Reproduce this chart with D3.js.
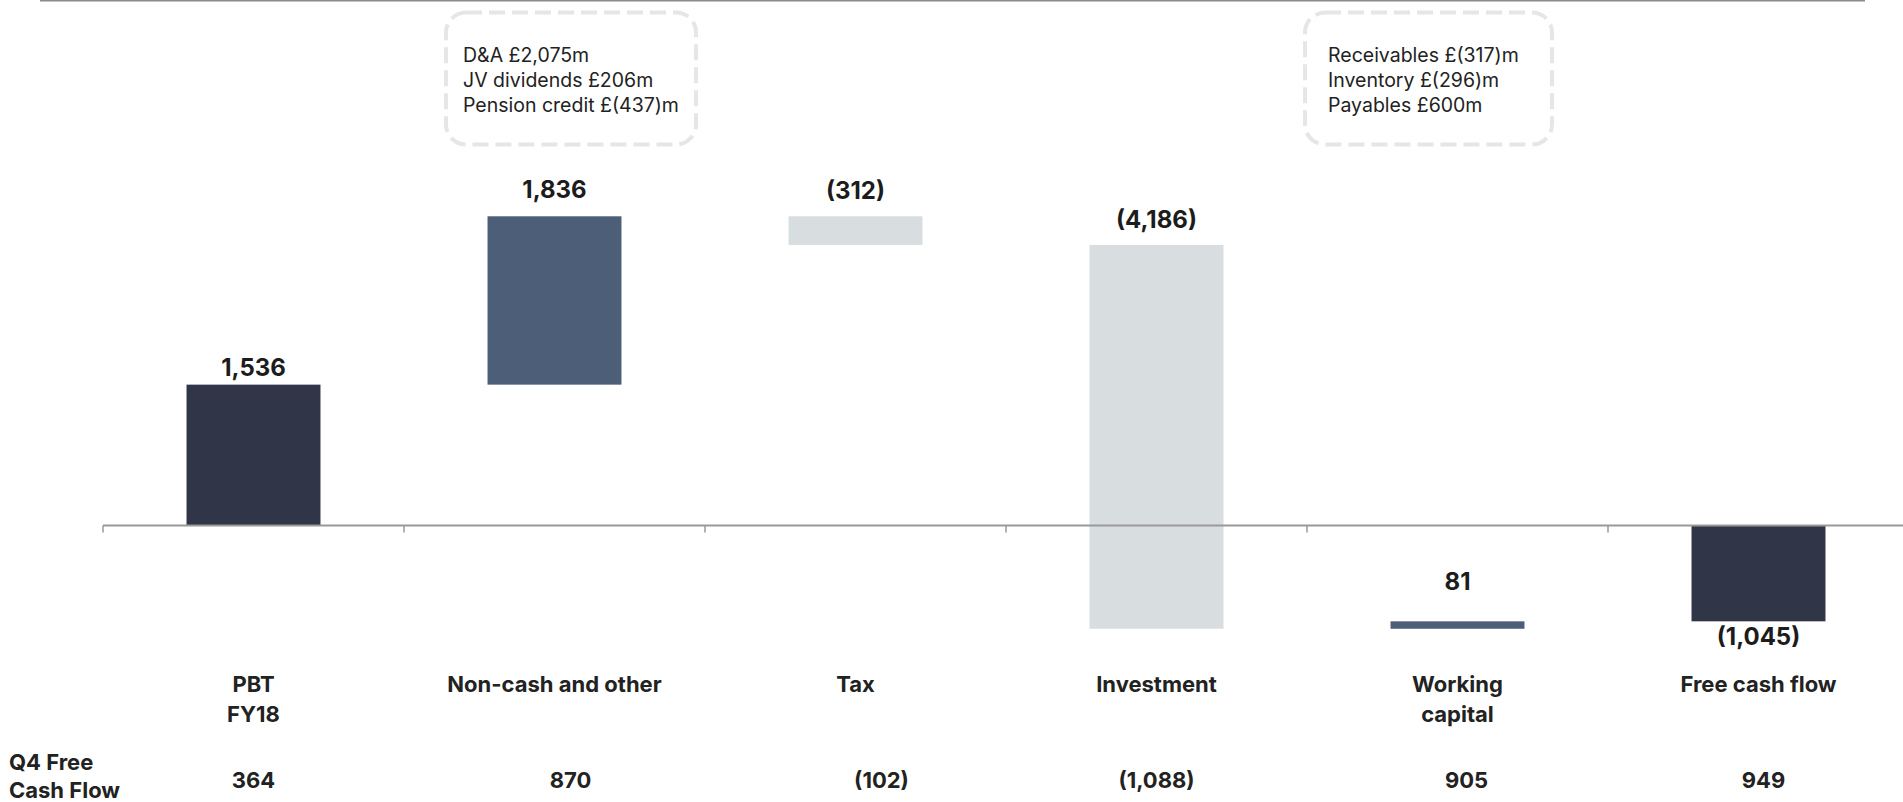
<!DOCTYPE html>
<html>
<head>
<meta charset="utf-8">
<script src="https://cdn.jsdelivr.net/npm/d3@7"></script>
<style>
  html, body { margin: 0; padding: 0; background: #fff; }
  svg { display: block; font-family: Inter, "Noto Sans", sans-serif; }
</style>
</head>
<body>
<div id="chart"></div>
<script>
// Chart data
const categories = ['PBT FY18', 'Non-cash and other', 'Tax', 'Investment', 'Working capital', 'Free cash flow'];
const categoryLines = [['PBT', 'FY18'], ['Non-cash and other'], ['Tax'], ['Investment'], ['Working', 'capital'], ['Free cash flow']];
const barValues = [1536, 1836, -312, -4186, 81, -1045];
const barKinds = ['total', 'delta', 'delta', 'delta', 'delta', 'total'];
const valueLabels = ['1,536', '1,836', '(312)', '(4,186)', '81', '(1,045)'];
const q4Values = ['364', '870', '(102)', '(1,088)', '905', '949'];
const nonCashNotes = ['D&A £2,075m', 'JV dividends £206m', 'Pension credit £(437)m'];
const workingCapNotes = ['Receivables £(317)m', 'Inventory £(296)m', 'Payables £600m'];

// Dimensions
const width = 1903;
const height = 802;
const axisY = 525.5;

const colors = { total: '#303547', up: '#4d5e78', down: '#d8dde0' };

// Running totals for the waterfall
let running = 0;
const bars = categories.map((c, i) => {
    let start, end;
    if (barKinds[i] === 'total') {
        start = 0; end = barValues[i]; running = end;
    } else {
        start = running; end = running + barValues[i]; running = end;
    }
    return { cat: c, i, start, end, kind: barKinds[i], value: barValues[i] };
});

// Scales
const yScale = d3.scaleLinear()
    .domain([-2500, 5000])
    .range([axisY + 2500 * 0.0917, axisY - 5000 * 0.0917]);

const xScale = d3.scaleBand()
    .domain(categories)
    .range([103, 1909])
    .paddingInner(0.555)
    .paddingOuter(0.2775);

const xSlots = d3.scaleBand()
    .domain(categories)
    .range([103, 1909])
    .padding(0);

const cx = c => xScale(c) + xScale.bandwidth() / 2;

const svg = d3.select('#chart')
    .append('svg')
    .attr('width', width)
    .attr('height', height);

// Top rule
svg.append('line')
    .attr('x1', 40).attr('x2', 1865)
    .attr('y1', 0.75).attr('y2', 0.75)
    .attr('stroke', '#8c8c8c')
    .attr('stroke-width', 1.5);

// Bars
svg.selectAll('.bar')
    .data(bars)
    .enter()
    .append('rect')
    .attr('class', 'bar')
    .attr('x', d => xScale(d.cat))
    .attr('width', xScale.bandwidth())
    .attr('y', d => yScale(Math.max(d.start, d.end)))
    .attr('height', d => Math.abs(yScale(d.start) - yScale(d.end)))
    .attr('fill', d => d.kind === 'total' ? colors.total : (d.value >= 0 ? colors.up : colors.down));

// Axis line with ticks at slot boundaries
svg.append('line')
    .attr('x1', xSlots(categories[0])).attr('x2', width)
    .attr('y1', axisY).attr('y2', axisY)
    .attr('stroke', '#999')
    .attr('stroke-width', 2);

svg.selectAll('.tick')
    .data(categories)
    .enter()
    .append('line')
    .attr('class', 'tick')
    .attr('x1', d => xSlots(d)).attr('x2', d => xSlots(d))
    .attr('y1', axisY).attr('y2', axisY + 7)
    .attr('stroke', '#999')
    .attr('stroke-width', 1.5);

// Value labels (gap from bar edge, tuned per bar)
const labelGap = [9, 18.5, 17, 16.5, 31.5, -23.5];
svg.selectAll('.value')
    .data(bars)
    .enter()
    .append('text')
    .attr('class', 'value')
    .attr('x', d => cx(d.cat))
    .attr('y', (d, i) => labelGap[i] > 0
        ? yScale(Math.max(d.start, d.end)) - labelGap[i]
        : yScale(Math.min(d.start, d.end)) - labelGap[i])
    .attr('text-anchor', 'middle')
    .attr('font-size', 24)
    .attr('font-weight', 700)
    .attr('fill', '#1c1c1c')
    .text((d, i) => valueLabels[i]);

// Category labels
const catText = svg.selectAll('.cat')
    .data(categories)
    .enter()
    .append('text')
    .attr('class', 'cat')
    .attr('x', d => cx(d))
    .attr('y', 692)
    .attr('text-anchor', 'middle')
    .attr('font-size', 22)
    .attr('font-weight', 700)
    .attr('fill', '#222');

catText.selectAll('tspan')
    .data((d, i) => categoryLines[i])
    .enter()
    .append('tspan')
    .attr('x', function () { return d3.select(this.parentNode).attr('x'); })
    .attr('dy', (d, j) => j === 0 ? 0 : 29.5)
    .text(d => d);

// Q4 free cash flow row
svg.append('text')
    .attr('x', 9).attr('y', 770)
    .attr('font-size', 22).attr('font-weight', 700).attr('fill', '#222')
    .call(t => {
        t.append('tspan').attr('x', 9).text('Q4 Free');
        t.append('tspan').attr('x', 9).attr('dy', 27.5).text('Cash Flow');
    });

const q4Nudge = [0, 16, 26, 0, 9, 5];
svg.selectAll('.q4')
    .data(q4Values)
    .enter()
    .append('text')
    .attr('class', 'q4')
    .attr('x', (d, i) => cx(categories[i]) + q4Nudge[i])
    .attr('y', 787.5)
    .attr('text-anchor', 'middle')
    .attr('font-size', 22)
    .attr('font-weight', 700)
    .attr('fill', '#222')
    .text(d => d);

// Dashed call-out boxes
function noteBox(cat, dx, boxW, boxH, textDx, lines) {
    const left = cx(cat) + dx - boxW / 2;
    const g = svg.append('g');
    g.append('rect')
        .attr('x', left).attr('y', 12.5)
        .attr('width', boxW).attr('height', boxH)
        .attr('rx', 20).attr('ry', 20)
        .attr('fill', 'none')
        .attr('stroke', '#e6e6e6')
        .attr('stroke-width', 4)
        .attr('stroke-dasharray', '16 7');
    g.selectAll('text')
        .data(lines)
        .enter()
        .append('text')
        .attr('x', left + textDx)
        .attr('y', (d, i) => 62 + i * 25)
        .attr('font-size', 19.5)
        .attr('fill', '#222')
        .text(d => d);
}

noteBox(categories[1], 16.5, 250, 132, 17, nonCashNotes);
noteBox(categories[4], -29, 247, 132, 23, workingCapNotes);
</script>
</body>
</html>
